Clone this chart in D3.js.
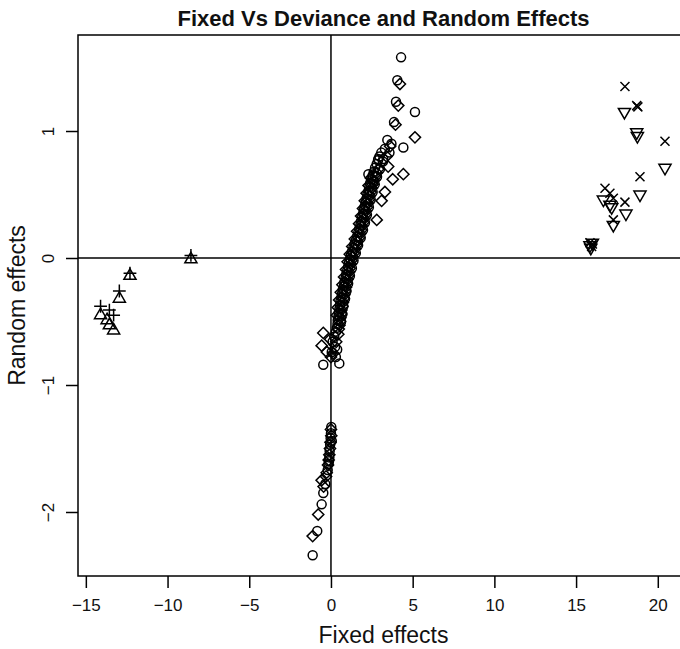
<!DOCTYPE html>
<html>
<head>
<meta charset="utf-8">
<script src="https://cdn.jsdelivr.net/npm/d3@7"></script>
<style>
  html, body { margin: 0; padding: 0; background: #fff; }
  svg { display: block; font-family: "Liberation Sans", Arial, Helvetica, sans-serif; }
</style>
</head>
<body>
<div id="chart"></div>
<script>
// ticks
const xTicks = [-15, -10, -5, 0, 5, 10, 15, 20];
const yTicks = [-2, -1, 0, 1];

// [fixed, random] — circles (pch 1)
const circles = [
  [0.30, -0.58], [0.36, -0.55], [0.40, -0.52], [0.41, -0.49], [0.46, -0.46], [0.47, -0.43],
  [0.52, -0.40], [0.55, -0.37], [0.58, -0.34], [0.64, -0.31], [0.68, -0.28], [0.72, -0.25],
  [0.79, -0.22], [0.82, -0.19], [0.89, -0.16], [0.93, -0.13], [0.99, -0.10], [1.05, -0.07],
  [1.09, -0.04], [1.16, -0.01], [1.21, 0.02], [1.28, 0.05], [1.37, 0.08], [1.44, 0.11],
  [1.53, 0.14], [1.60, 0.17], [1.67, 0.20], [1.73, 0.23], [1.80, 0.26], [1.84, 0.29],
  [1.90, 0.32], [1.97, 0.35], [2.01, 0.38], [2.07, 0.41], [2.13, 0.44], [2.18, 0.47],
  [2.23, 0.50], [2.30, 0.53], [2.35, 0.56], [2.40, 0.59], [2.47, 0.62], [2.55, 0.65],
  [2.62, 0.68], [2.70, 0.71], [2.80, 0.74], [2.88, 0.77], [2.97, 0.80], [3.08, 0.83],
  [0.62, -0.50], [0.70, -0.44], [0.76, -0.38], [0.86, -0.32], [0.95, -0.26], [1.05, -0.20],
  [1.16, -0.14], [1.28, -0.08], [1.38, -0.02], [1.52, 0.04], [1.66, 0.10], [1.82, 0.16],
  [1.96, 0.22], [2.08, 0.28], [2.20, 0.34], [2.32, 0.40], [2.43, 0.46], [2.55, 0.52],
  [2.68, 0.58], [2.82, 0.64], [3.00, 0.70], [3.18, 0.76],
  [2.29, 0.66], [2.60, 0.60], [2.90, 0.78], [3.20, 0.78], [3.30, 0.86], [3.45, 0.93],
  [3.58, 0.83], [3.70, 0.90], [3.86, 1.07], [3.98, 1.23], [4.06, 1.40], [4.29, 1.58],
  [5.14, 1.15], [4.43, 0.87],
  [0.20, -0.62], [0.10, -0.66], [0.25, -0.70], [0.05, -0.74], [0.38, -0.72], [0.30, -0.78],
  [-0.47, -0.84], [0.51, -0.83],
  [0.02, -1.33], [0.00, -1.38], [0.05, -1.44], [-0.02, -1.42], [-0.05, -1.47], [-0.08, -1.52],
  [-0.10, -1.57], [-0.12, -1.60], [-0.15, -1.62], [-0.20, -1.67], [-0.35, -1.78],
  [-0.47, -1.85], [-0.57, -1.94], [-0.84, -2.15], [-1.12, -2.34]
];

// diamonds (pch 5)
const diamonds = [
  [0.45, -0.60], [0.48, -0.56], [0.52, -0.53], [0.55, -0.50], [0.58, -0.47], [0.62, -0.44],
  [0.64, -0.41], [0.70, -0.38], [0.73, -0.35], [0.78, -0.32], [0.82, -0.29], [0.86, -0.26],
  [0.92, -0.23], [0.95, -0.20], [1.01, -0.17], [1.05, -0.14], [1.11, -0.11], [1.15, -0.08],
  [1.21, -0.05], [1.25, -0.02], [1.32, 0.01], [1.40, 0.04], [1.48, 0.07], [1.56, 0.10],
  [1.63, 0.13], [1.72, 0.16], [1.79, 0.19], [1.85, 0.22], [1.90, 0.25], [1.97, 0.28],
  [2.03, 0.31], [2.09, 0.34], [2.14, 0.37], [2.20, 0.40], [2.26, 0.43], [2.32, 0.46],
  [2.38, 0.49], [2.43, 0.52], [2.50, 0.55], [2.56, 0.58], [2.63, 0.61], [2.72, 0.64],
  [2.80, 0.67], [2.90, 0.70],
  [0.36, -0.45], [0.42, -0.39], [0.50, -0.33], [0.60, -0.27], [0.70, -0.21], [0.80, -0.15],
  [0.92, -0.09], [1.02, -0.03], [1.15, 0.03], [1.30, 0.09], [1.46, 0.15], [1.60, 0.21],
  [1.72, 0.27], [1.84, 0.33], [1.96, 0.39], [2.07, 0.45], [2.18, 0.51], [2.30, 0.57],
  [2.44, 0.63],
  [2.80, 0.30], [3.10, 0.45], [3.30, 0.52], [3.78, 0.62], [4.43, 0.66], [3.50, 0.72],
  [3.40, 0.80], [3.62, 0.88], [3.95, 1.05], [4.12, 1.20], [4.22, 1.37], [5.14, 0.95],
  [-0.47, -0.59], [-0.57, -0.69], [0.14, -0.75], [-0.25, -0.74], [-0.05, -0.64],
  [0.32, -0.66], [0.00, -0.78],
  [0.00, -1.35], [0.02, -1.40], [-0.03, -1.45], [-0.06, -1.50], [-0.10, -1.55],
  [-0.14, -1.59], [-0.18, -1.63], [-0.26, -1.69], [-0.30, -1.72], [-0.45, -1.80],
  [-0.57, -1.75], [-0.78, -2.02], [-1.12, -2.19]
];

// triangles up (pch 2)
const trianglesUp = [
  [-8.57, -0.01], [-12.30, -0.14], [-12.95, -0.32], [-14.10, -0.45],
  [-13.70, -0.49], [-13.56, -0.53], [-13.30, -0.57]
];

// plus (pch 3)
const pluses = [
  [-8.57, 0.02], [-12.30, -0.12], [-12.95, -0.26], [-14.10, -0.38],
  [-13.56, -0.41], [-13.30, -0.45]
];

// crosses (pch 4)
const crosses = [
  [17.99, 1.35], [18.71, 1.20], [18.78, 1.19], [20.44, 0.92], [18.91, 0.64], [17.99, 0.44],
  [16.77, 0.55], [17.07, 0.51], [17.28, 0.47], [17.28, 0.30], [15.85, 0.12], [16.00, 0.11],
  [15.95, 0.09]
];

// triangles down (pch 6)
const trianglesDown = [
  [17.96, 1.15], [18.71, 0.99], [18.75, 0.96], [20.44, 0.71], [18.91, 0.50], [18.05, 0.35],
  [16.67, 0.46], [17.07, 0.42], [17.18, 0.40], [17.28, 0.26], [15.85, 0.10], [16.00, 0.12],
  [15.90, 0.08]
];

const width = 680;
const height = 649;
const plot = { left: 78, top: 35, right: 689, bottom: 576 };

const svg = d3.select('#chart')
  .append('svg')
  .attr('width', width)
  .attr('height', height);

const x = d3.scaleLinear().domain([-15.48, 21.91]).range([plot.left, plot.right]);
const y = d3.scaleLinear().domain([-2.504, 1.756]).range([plot.bottom, plot.top]);

// marker shapes, sizes like base R at cex 1
const shapes = {
  diamond: 'M0,-5.6L5.6,0L0,5.6L-5.6,0Z',
  triUp: 'M0,-7L6.06,3.5L-6.06,3.5Z',
  triDown: 'M0,7L6.06,-3.5L-6.06,-3.5Z',
  plus: 'M-6.4,0H6.4M0,-6.4V6.4',
  cross: 'M-4.5,-4.5L4.5,4.5M-4.5,4.5L4.5,-4.5',
};

// reference lines
svg.append('line')
  .attr('x1', x(0)).attr('x2', x(0))
  .attr('y1', plot.top).attr('y2', plot.bottom)
  .attr('stroke', '#000').attr('stroke-width', 1.5);
svg.append('line')
  .attr('x1', plot.left).attr('x2', plot.right)
  .attr('y1', y(0)).attr('y2', y(0))
  .attr('stroke', '#000').attr('stroke-width', 1.5);

const marks = svg.append('g')
  .attr('fill', 'none')
  .attr('stroke', '#000')
  .attr('stroke-width', 1.5);

marks.selectAll('circle.pt')
  .data(circles)
  .enter()
  .append('circle')
  .attr('class', 'pt')
  .attr('cx', (d) => x(d[0]))
  .attr('cy', (d) => y(d[1]))
  .attr('r', 4.5);

function drawShape(data, key) {
  marks.selectAll(null)
    .data(data)
    .enter()
    .append('path')
    .attr('d', shapes[key])
    .attr('transform', (d) => `translate(${x(d[0])},${y(d[1])})`);
}

drawShape(diamonds, 'diamond');
drawShape(trianglesUp, 'triUp');
drawShape(pluses, 'plus');
drawShape(crosses, 'cross');
drawShape(trianglesDown, 'triDown');

// frame
svg.append('rect')
  .attr('x', plot.left)
  .attr('y', plot.top)
  .attr('width', plot.right - plot.left)
  .attr('height', plot.bottom - plot.top)
  .attr('fill', 'none')
  .attr('stroke', '#000')
  .attr('stroke-width', 1.5);

// axes
const xAxis = svg.append('g')
  .attr('transform', `translate(0,${plot.bottom})`)
  .call(d3.axisBottom(x).tickValues(xTicks).tickSize(12).tickPadding(11)
    .tickFormat(d3.format('d')));
const yAxis = svg.append('g')
  .attr('transform', `translate(${plot.left},0)`)
  .call(d3.axisLeft(y).tickValues(yTicks).tickSize(12).tickFormat(d3.format('d')));

[xAxis, yAxis].forEach((ax) => {
  ax.select('.domain').remove();
  ax.selectAll('.tick line').attr('stroke', '#000').attr('stroke-width', 1.5);
  ax.selectAll('.tick text')
    .attr('fill', '#111')
    .style('font-size', '17px')
    .style('font-family', '"Liberation Sans", Arial, sans-serif');
});

yAxis.selectAll('.tick text')
  .attr('x', 0)
  .attr('y', 0)
  .attr('dy', 0)
  .attr('text-anchor', 'middle')
  .attr('transform', 'translate(-24,0) rotate(-90)');

// titles
svg.append('text')
  .attr('x', (plot.left + plot.right) / 2)
  .attr('y', 26)
  .attr('text-anchor', 'middle')
  .attr('font-weight', 'bold')
  .attr('font-size', 22)
  .attr('fill', '#111')
  .text('Fixed Vs Deviance and Random Effects');

svg.append('text')
  .attr('x', (plot.left + plot.right) / 2)
  .attr('y', 643)
  .attr('text-anchor', 'middle')
  .attr('font-size', 23)
  .attr('fill', '#111')
  .text('Fixed effects');

svg.append('text')
  .attr('transform', `translate(25,${(plot.top + plot.bottom) / 2}) rotate(-90)`)
  .attr('text-anchor', 'middle')
  .attr('font-size', 23)
  .attr('fill', '#111')
  .text('Random effects');
</script>
</body>
</html>
